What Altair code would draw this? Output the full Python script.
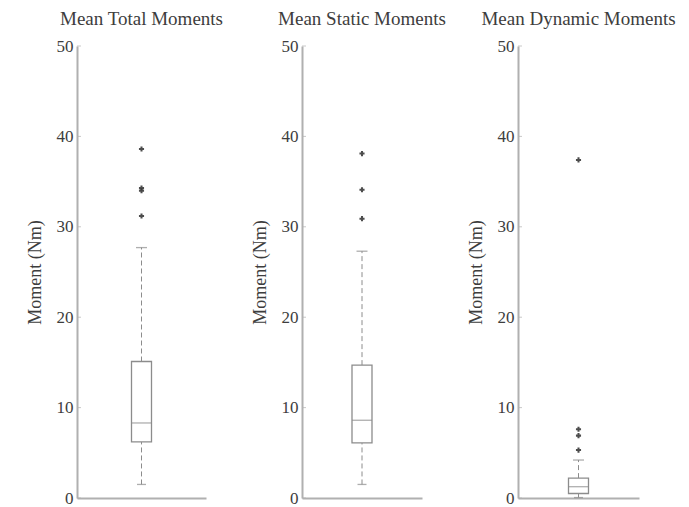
import altair as alt
import pandas as pd

# ---- data ----
panel_titles = ["Mean Total Moments", "Mean Static Moments", "Mean Dynamic Moments"]
q1 = [6.2, 6.1, 0.5]
median = [8.3, 8.6, 1.25]
q3 = [15.1, 14.7, 2.2]
whisker_low = [1.5, 1.5, 0.05]
whisker_high = [27.7, 27.3, 4.2]
outliers_total = [31.2, 34.0, 34.3, 38.6]
outliers_static = [30.9, 34.1, 38.1]
outliers_dynamic = [5.3, 6.9, 7.6, 37.4]
outliers = [outliers_total, outliers_static, outliers_dynamic]
y_ticks = [0, 10, 20, 30, 40, 50]
y_title = "Moment (Nm)"

FONT = "Liberation Serif"
TEXT = "#3d3d3d"
AXIS = "#b0b0b0"
BOX = "#8c8c8c"

panel_widths = [129, 120, 121]


def ychan(field):
    return alt.Y(
        field,
        title=y_title,
        scale=alt.Scale(domain=[0, 50], nice=False, zero=True),
        axis=alt.Axis(
            values=y_ticks, grid=False, ticks=False, labelPadding=4,
            domainColor=AXIS, domainWidth=2, titlePadding=12,
            labelFont=FONT, titleFont=FONT, labelFontSize=17, titleFontSize=18,
            labelColor=TEXT, titleColor=TEXT, titleFontWeight="normal",
        ),
    )


def panel(i):
    stats = pd.DataFrame({
        "g": ["a"], "q1": [q1[i]], "med": [median[i]], "q3": [q3[i]],
        "lo": [whisker_low[i]], "hi": [whisker_high[i]],
    })
    xch = alt.X("g:N", title=None,
                scale=alt.Scale(paddingInner=0, paddingOuter=0),
                axis=alt.Axis(labels=False, ticks=False, domainColor=AXIS, domainWidth=2))
    base = alt.Chart(stats).encode(x=xch)

    upper_w = base.mark_rule(color=BOX, strokeDash=[5, 3], strokeWidth=1).encode(
        y=ychan("q3:Q"), y2="hi:Q")
    lower_w = base.mark_rule(color=BOX, strokeDash=[5, 3], strokeWidth=1).encode(
        y=ychan("lo:Q"), y2="q1:Q")
    box = base.mark_bar(size=20, fill="white", stroke=BOX, strokeWidth=1.3).encode(
        y=ychan("q1:Q"), y2="q3:Q")
    med = base.mark_tick(size=20, thickness=1.3, color=BOX).encode(y=ychan("med:Q"))
    cap_hi = base.mark_tick(size=11, thickness=1.3, color=BOX).encode(y=ychan("hi:Q"))
    cap_lo = base.mark_tick(size=9, thickness=1.3, color=BOX).encode(y=ychan("lo:Q"))

    out_df = pd.DataFrame({"g": ["a"] * len(outliers[i]), "v": outliers[i]})
    outs = alt.Chart(out_df).mark_point(shape="cross", filled=True, size=26,
                                        color="#3a3a3a", opacity=0.9).encode(
        x=xch, y=ychan("v:Q"))

    tick_df = pd.DataFrame({"t": y_ticks})
    yt = alt.Chart(tick_df).mark_tick(orient="horizontal", size=4, thickness=1,
                                      color=AXIS).encode(
        y=ychan("t:Q"), x=alt.value(2))

    return alt.layer(upper_w, lower_w, box, med, cap_hi, cap_lo, outs, yt).properties(
        width=panel_widths[i], height=452,
        title=alt.TitleParams(panel_titles[i], font=FONT, fontSize=19,
                              fontWeight="normal", color=TEXT, anchor="middle",
                              frame="group", offset=8),
    )


chart = alt.hconcat(panel(0), panel(1), panel(2), spacing=96, bounds="flush").properties(
    padding={"left": 18, "top": 2, "right": 5, "bottom": 0},
    background="white",
).configure_view(stroke=None)

chart.save("out.html", embed_options={"renderer": "svg", "actions": False})
